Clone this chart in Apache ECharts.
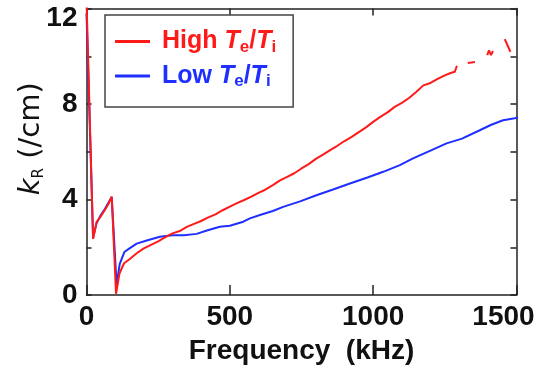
<!DOCTYPE html>
<html>
<head>
<meta charset="utf-8">
<script src="https://cdn.jsdelivr.net/npm/echarts@6/dist/echarts.min.js"></script>
<style>
html,body{margin:0;padding:0;background:#fff;}
#c{width:542px;height:371px;}
</style>
</head>
<body>
<div id="c"></div>
<script>
// ---- data (frequency in kHz, k_R in /cm) ----
var seriesNames = ['High Te/Ti', 'Low Te/Ti'];
var xTicks = [0, 500, 1000, 1500];
var yTickLabels = [0, 4, 8, 12];

var highFreq = [0, 23, 35, 50, 64, 76, 88, 103, 115, 131, 150, 175, 200, 225, 250, 275, 300, 325, 350, 375, 400, 425, 450, 475, 500, 525, 550, 575, 600, 625, 650, 675, 700, 725, 750, 775, 800, 825, 850, 875, 900, 925, 950, 975, 1000, 1025, 1050, 1075, 1100, 1125, 1150, 1175, 1200, 1225, 1250, 1270, 1285, 1292,
  1310, 1330, 1343, 1355, 1375, 1398, 1404, 1411, 1418, 1440, 1459, 1469, 1479];
var highVal = [12.4, 2.35, 3.05, 3.3, 3.56, 3.8, 4.12, 0.05, 0.9, 1.33, 1.5, 1.75, 1.95, 2.1, 2.25, 2.42, 2.58, 2.68, 2.85, 2.98, 3.1, 3.25, 3.38, 3.55, 3.7, 3.85, 3.98, 4.12, 4.28, 4.42, 4.6, 4.8, 4.95, 5.1, 5.3, 5.48, 5.7, 5.88, 6.07, 6.25, 6.45, 6.62, 6.82, 7.02, 7.25, 7.46, 7.65, 7.88, 8.05, 8.25, 8.5, 8.78, 8.88, 9.05, 9.2, 9.3, 9.35, 9.6,
  null, 9.72, 9.74, 9.76, null, 10.05, 10.25, 10.05, 10.22, null, 10.72, 10.45, 10.18];

var lowFreq = [0, 23, 35, 50, 64, 76, 88, 105, 116, 132, 150, 175, 210, 256, 300, 340, 384, 420, 465, 500, 547, 570, 605, 650, 686, 745, 802, 860, 919, 980, 1035, 1093, 1139, 1200, 1256, 1310, 1372, 1410, 1453, 1494, 1510];
var lowVal = [11.8, 2.4, 3.0, 3.35, 3.6, 3.85, 4.1, 0.45, 1.3, 1.8, 1.95, 2.15, 2.28, 2.44, 2.5, 2.5, 2.56, 2.7, 2.86, 2.9, 3.07, 3.21, 3.35, 3.52, 3.69, 3.92, 4.18, 4.42, 4.67, 4.92, 5.16, 5.44, 5.72, 6.05, 6.35, 6.55, 6.9, 7.12, 7.32, 7.4, 7.45];

function pairs(xs, ys) { return xs.map(function (x, i) { return [x, ys[i]]; }); }

var FONT = '"Liberation Sans", Arial, sans-serif';
var WIDE = '"DejaVu Sans", sans-serif';
var RED = '#ff1a1a', BLUE = '#1f2fff', AX = '#222';

function legendRich(color) {
  return {
    n0: {color: color, fontFamily: FONT, fontSize: 25, fontWeight: 'bold', lineHeight: 28, padding: [0, 0, 0, 7]},
    n: {color: color, fontFamily: FONT, fontSize: 25, fontWeight: 'bold', lineHeight: 28},
    t: {color: color, fontFamily: FONT, fontSize: 25, fontWeight: 'bold', fontStyle: 'italic', lineHeight: 28},
    s: {color: color, fontFamily: FONT, fontSize: 17, fontWeight: 'bold', lineHeight: 10, verticalAlign: 'bottom'}
  };
}

var chart = echarts.init(document.getElementById('c'), null, {renderer: 'canvas'});
chart.setOption({
  animation: false,
  backgroundColor: '#fff',
  grid: {left: 86.5, right: 25.5, top: 8.5, bottom: 76, containLabel: false, outerBoundsMode: 'none'},
  legend: {
    orient: 'vertical',
    left: 105, top: 15,
    padding: [14, 17, 17, 10],
    icon: 'rect',
    itemWidth: 35, itemHeight: 3, itemGap: 8,
    backgroundColor: '#fff',
    borderColor: '#444', borderWidth: 1.5,
    data: [
      {name: seriesNames[0], textStyle: {rich: legendRich(RED)}},
      {name: seriesNames[1], textStyle: {rich: legendRich(BLUE)}}
    ],
    formatter: function (name) {
      var w = name === seriesNames[0] ? 'High ' : 'Low ';
      return '{n0|' + w + '}{t|T}{s|e}{n|/}{t|T}{s|i}';
    }
  },
  xAxis: [{
    type: 'value', min: xTicks[0], max: xTicks[xTicks.length - 1], interval: 500, position: 'bottom',
    axisLine: {onZero: false, lineStyle: {color: AX, width: 1.5}},
    axisTick: {inside: true, length: 10, lineStyle: {color: AX, width: 1.5}},
    splitLine: {show: false},
    axisLabel: {
      margin: 8, color: '#111', fontFamily: FONT, fontSize: 28, fontWeight: 'bold',
      formatter: function (v) { return v === 1500 ? '{m|' + v + '}' : String(v); },
      rich: {m: {color: '#111', fontFamily: FONT, fontSize: 28, fontWeight: 'bold', padding: [0, 26, 0, 0]}}
    },
    name: 'Frequency  (kHz)', nameLocation: 'middle', nameGap: 42, nameMoveOverlap: false,
    nameTextStyle: {color: '#111', fontFamily: FONT, fontSize: 28, fontWeight: 'bold'}
  }, {
    type: 'value', min: xTicks[0], max: xTicks[xTicks.length - 1], interval: 500, position: 'top',
    axisLine: {onZero: false, lineStyle: {color: AX, width: 1.5}},
    axisTick: {inside: true, length: 7, lineStyle: {color: AX, width: 1.5}},
    axisLabel: {show: false}, splitLine: {show: false}
  }],
  yAxis: [{
    type: 'value', min: 0, max: 12, interval: 2, position: 'left',
    axisLine: {onZero: false, lineStyle: {color: AX, width: 1.5}},
    axisTick: {inside: true, length: 5, lineStyle: {color: AX, width: 1.5}},
    splitLine: {show: false},
    axisLabel: {
      margin: 9, color: '#111', fontFamily: FONT, fontSize: 28, fontWeight: 'bold',
      formatter: function (v) {
        if (yTickLabels.indexOf(v) < 0) return '';
        return v === 12 ? '{top|' + v + '}' : String(v);
      },
      rich: {top: {color: '#111', fontFamily: FONT, fontSize: 28, fontWeight: 'bold', padding: [20, 0, 0, 0]}}
    },
    name: '{k|k}{r|R}{n| (/cm)}', nameLocation: 'middle', nameGap: 40, nameMoveOverlap: false,
    nameTextStyle: {
      padding: [0, 0, 0, 26],
      rich: {
        k: {color: '#111', fontFamily: WIDE, fontSize: 29, fontStyle: 'italic', lineHeight: 30},
        r: {color: '#111', fontFamily: WIDE, fontSize: 15, lineHeight: 10, verticalAlign: 'bottom'},
        n: {color: '#111', fontFamily: WIDE, fontSize: 29, lineHeight: 30}
      }
    }
  }, {
    type: 'value', min: 0, max: 12, interval: 2, position: 'right',
    axisLine: {onZero: false, lineStyle: {color: AX, width: 1.5}},
    axisTick: {inside: true, length: 6, lineStyle: {color: AX, width: 1.5}},
    axisLabel: {show: false}, splitLine: {show: false}
  }],
  series: [{
    name: seriesNames[0], type: 'line', xAxisIndex: 0, yAxisIndex: 0,
    data: pairs(highFreq, highVal), symbol: 'none', connectNulls: false, clip: true,
    lineStyle: {color: RED, width: 2}, itemStyle: {color: RED}, z: 3
  }, {
    name: seriesNames[1], type: 'line', xAxisIndex: 0, yAxisIndex: 0,
    data: pairs(lowFreq, lowVal), symbol: 'none', clip: true,
    lineStyle: {color: BLUE, width: 2}, itemStyle: {color: BLUE}, z: 2
  }]
});
</script>
</body>
</html>
